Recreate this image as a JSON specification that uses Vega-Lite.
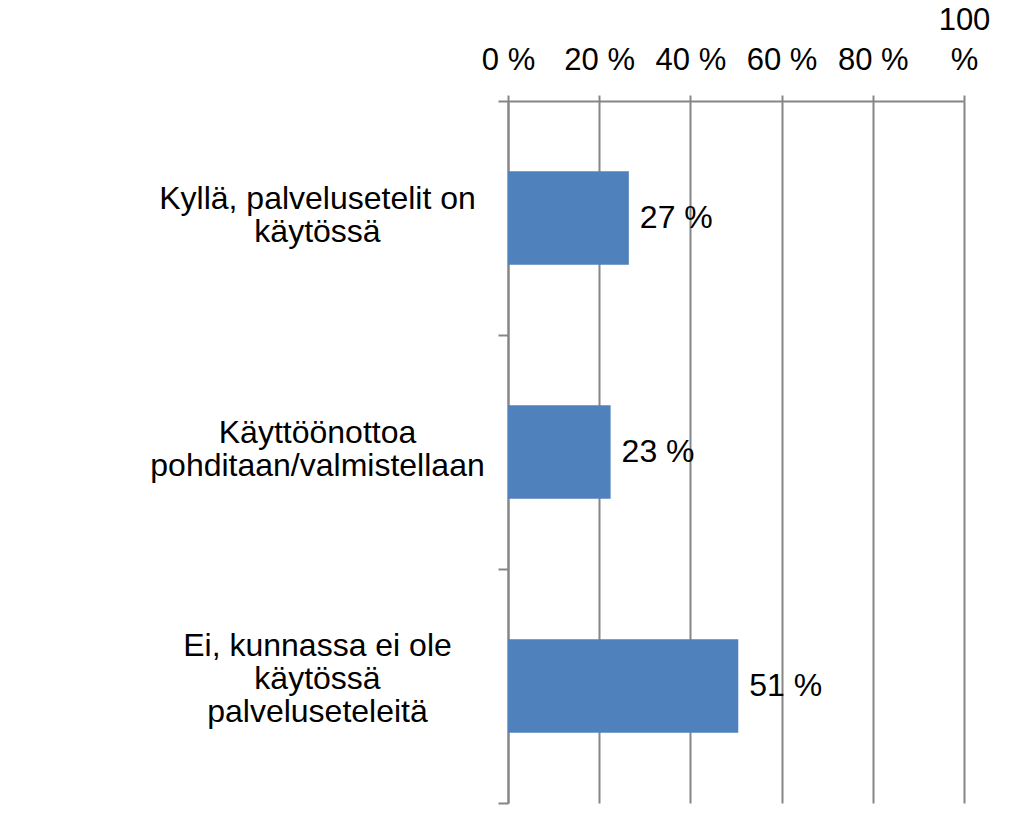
{
  "$schema": "https://vega.github.io/schema/vega-lite/v6.json",
  "autosize": {"type": "none"},
  "width": 456,
  "height": 702,
  "padding": {"left": 508, "top": 101, "right": 64, "bottom": 26},
  "background": "white",
  "data": {
    "values": [
      {"category": "Kyllä, palvelusetelit on|käytössä", "value": 0.265, "label": "27 %"},
      {"category": "Käyttöönottoa|pohditaan/valmistellaan", "value": 0.225, "label": "23 %"},
      {"category": "Ei, kunnassa ei ole|käytössä|palveluseteleitä", "value": 0.505, "label": "51 %"}
    ]
  },
  "config": {
    "view": {"stroke": null},
    "font": "Liberation Sans"
  },
  "encoding": {
    "y": {
      "field": "category",
      "type": "nominal",
      "sort": null,
      "scale": {"paddingInner": 0, "paddingOuter": 0},
      "axis": {
        "title": null,
        "orient": "left",
        "tickBand": "extent",
        "tickSize": 10,
        "tickWidth": 2,
        "tickColor": "#868686",
        "domainColor": "#868686",
        "domainWidth": 2,
        "labelAlign": "center",
        "labelBaseline": "middle",
        "labelPadding": 181,
        "labelLimit": 500,
        "labelFontSize": 32,
        "labelLineHeight": 33,
        "labelColor": "black",
        "labelFont": "Liberation Sans",
        "labelOffset": {"condition": {"test": "length(split(datum.value, '|')) > 2", "value": -41}, "value": -20},
        "labelExpr": "split(datum.label, '|')"
      }
    },
    "x": {
      "field": "value",
      "type": "quantitative",
      "scale": {"domain": [0, 1], "nice": false},
      "axis": {
        "title": null,
        "orient": "top",
        "values": [0, 0.2, 0.4, 0.6, 0.8, 1],
        "grid": true,
        "gridColor": "#868686",
        "gridWidth": 2,
        "gridOpacity": 1,
        "tickSize": 6,
        "tickWidth": 2,
        "tickColor": "#868686",
        "domainColor": "#868686",
        "domainWidth": 2,
        "labelPadding": {"condition": {"test": "datum.value == 1", "value": 59}, "value": 19},
        "labelFontSize": 31,
        "labelLineHeight": 40,
        "labelColor": "black",
        "labelFont": "Liberation Sans",
        "labelFlush": false,
        "labelOverlap": false,
        "labelExpr": "datum.value == 1 ? ['100', '%'] : format(datum.value * 100, 'd') + ' %'"
      }
    }
  },
  "layer": [
    {"mark": {"type": "bar", "color": "#4F81BD", "height": {"band": 0.4}}},
    {
      "mark": {"type": "text", "align": "left", "baseline": "middle", "dx": 11, "fontSize": 32, "color": "black", "font": "Liberation Sans"},
      "encoding": {"text": {"field": "label"}}
    }
  ]
}
